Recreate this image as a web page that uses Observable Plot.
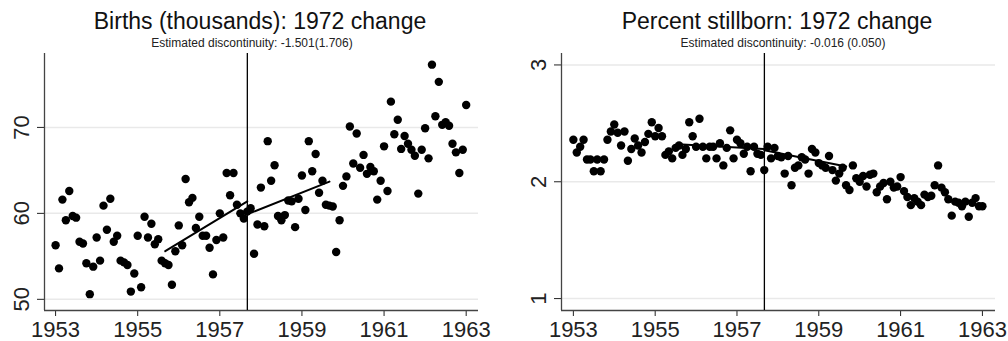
<!DOCTYPE html>
<html>
<head>
<meta charset="utf-8">
<script src="https://cdn.jsdelivr.net/npm/d3@7"></script>
<script src="https://cdn.jsdelivr.net/npm/@observablehq/plot@0.6"></script>
<style>
  html, body { margin: 0; padding: 0; background: white; }
  #c { position: relative; width: 1008px; height: 341px; overflow: hidden; background: white; font-family: "Liberation Sans", Arial, Helvetica, sans-serif; }
  .t { position: absolute; white-space: nowrap; transform: translateX(-50%); color: #111; }
  .title { font-size: 23px; line-height: 24px; top: 9px; }
  .sub { font-size: 12px; line-height: 14px; top: 36px; color: #222; }
  .p { position: absolute; top: 50px; }
</style>
</head>
<body>
<div id="c"></div>
<script>
// ---- data ----
const startYear = 1953;            // first month: January 1953, monthly observations
const cutoff = 1957.67;            // vertical discontinuity line
const xTicks = [1953, 1955, 1957, 1959, 1961, 1963];

const birthsTicks = [50, 60, 70];
const births = [
  56.3, 53.6, 61.6, 59.2, 62.6, 59.7, 59.5, 56.7, 56.5, 54.2,
  50.6, 53.8, 57.2, 54.5, 60.9, 58.1, 61.7, 56.7, 57.4, 54.5,
  54.3, 54.0, 50.9, 53.0, 57.4, 51.4, 59.6, 57.2, 58.8, 56.4,
  57.0, 54.5, 54.2, 54.0, 51.7, 55.6, 58.6, 56.3, 64.0, 61.3,
  61.8, 58.3, 59.6, 57.4, 57.4, 56.0, 52.9, 56.9, 60.0, 57.2,
  64.7, 62.1, 64.7, 61.0, 60.0, 59.4, 60.2, 60.6, 55.3, 58.7,
  63.0, 58.5, 68.4, 63.8, 65.6, 59.7, 59.2, 59.8, 61.5, 61.4,
  58.4, 61.7, 64.4, 60.4, 68.4, 64.9, 66.9, 62.4, 63.8, 61.0,
  60.9, 60.8, 55.5, 59.2, 63.2, 64.3, 70.1, 65.8, 69.3, 65.3,
  66.8, 64.6, 65.4, 64.9, 61.6, 63.8, 67.8, 62.6, 73.0, 69.2,
  70.9, 67.5, 69.0, 68.1, 67.4, 66.7, 62.3, 67.4, 69.9, 66.4,
  77.3, 71.3, 75.3, 70.3, 70.6, 70.2, 68.1, 67.1, 64.7, 67.4, 72.6
];
const birthsFitYears = [1955.67, 1957.67, 1957.67, 1959.67];
const birthsFit = [55.6, 61.4, 59.9, 63.7];

const stillTicks = [1, 2, 3];
const stillborn = [
  2.36, 2.25, 2.30, 2.36, 2.19, 2.19, 2.09, 2.19, 2.09, 2.19,
  2.36, 2.43, 2.49, 2.42, 2.31, 2.43, 2.18, 2.28, 2.37, 2.31,
  2.25, 2.34, 2.41, 2.51, 2.39, 2.46, 2.39, 2.23, 2.26, 2.20,
  2.29, 2.31, 2.23, 2.28, 2.51, 2.39, 2.30, 2.54, 2.30, 2.20,
  2.30, 2.30, 2.20, 2.33, 2.14, 2.29, 2.44, 2.20, 2.36, 2.33,
  2.24, 2.30, 2.09, 2.30, 2.24, 2.23, 2.10, 2.30, 2.20, 2.29,
  2.22, 2.21, 2.07, 2.22, 1.97, 2.12, 2.14, 2.21, 2.19, 2.07,
  2.28, 2.25, 2.16, 2.14, 2.12, 2.22, 2.10, 2.01, 2.07, 2.12,
  1.97, 1.93, 2.14, 2.03, 2.00, 2.05, 1.96, 2.06, 2.07, 1.91,
  1.96, 1.99, 1.85, 2.00, 1.95, 1.96, 2.04, 1.92, 1.87, 1.80,
  1.86, 1.83, 1.80, 1.89, 1.87, 1.88, 1.97, 2.14, 1.95, 1.91,
  1.85, 1.71, 1.83, 1.82, 1.79, 1.83, 1.70, 1.82, 1.86, 1.79, 1.79
];
const stillFitYears = [1955.67, 1957.67, 1957.67, 1959.67];
const stillFit = [2.32, 2.28, 2.27, 2.13];

const titles = ["Births (thousands): 1972 change", "Percent stillborn: 1972 change"];
const subtitles = ["Estimated discontinuity: -1.501(1.706)", "Estimated discontinuity: -0.016 (0.050)"];

// ---- drawing ----
function panel(values, ticks, yDomain, xDomain, mL, mR, fitYears, fitVals) {
  const pts = values.map((v, i) => ({t: startYear + i / 12, v}));
  const fit = fitYears.map((t, i) => ({t, v: fitVals[i], seg: i < 2 ? "pre" : "post"}));
  return Plot.plot({
    width: 504, height: 291,
    marginTop: 3, marginBottom: 31, marginLeft: mL, marginRight: mR,
    style: {fontFamily: "'Liberation Sans', Arial, sans-serif", fontSize: "22px", color: "#222", background: "white", overflow: "visible"},
    x: {domain: xDomain, ticks: xTicks, tickSize: 6, tickPadding: 5, tickFormat: d => String(d), label: null},
    y: {domain: yDomain, ticks: ticks, tickSize: 7, tickPadding: 9, tickRotate: -90, tickFormat: d => String(d), label: null},
    marks: [
      Plot.gridY(ticks, {stroke: "#e9e9e9", strokeOpacity: 1, strokeWidth: 1.5}),
      Plot.ruleX([xDomain[0]], {stroke: "#444", strokeWidth: 1.3}),
      Plot.ruleY([yDomain[0]], {stroke: "#444", strokeWidth: 1.3}),
      Plot.dot(pts, {x: "t", y: "v", r: 4.2, fill: "black", stroke: null}),
      Plot.line(fit, {x: "t", y: "v", z: "seg", stroke: "black", strokeWidth: 2}),
      Plot.ruleX([cutoff], {stroke: "black", strokeWidth: 1.3})
    ]
  });
}

const c = document.getElementById("c");
function addText(cls, txt, x) {
  const d = document.createElement("div");
  d.className = "t " + cls; d.textContent = txt; d.style.left = x + "px";
  c.appendChild(d);
}
addText("title", titles[0], 260);
addText("sub", subtitles[0], 252);
addText("title", titles[1], 777);
addText("sub", subtitles[1], 783);

const p1 = panel(births, birthsTicks, [48.7, 78.6], [1952.73, 1963.3], 44, 26, birthsFitYears, birthsFit);
p1.classList.add("p"); p1.style.left = "0px";
c.appendChild(p1);
const p2 = panel(stillborn, stillTicks, [0.898, 3.098], [1952.71, 1963.32], 57, 13, stillFitYears, stillFit);
p2.classList.add("p"); p2.style.left = "504px";
c.appendChild(p2);
</script>
</body>
</html>
